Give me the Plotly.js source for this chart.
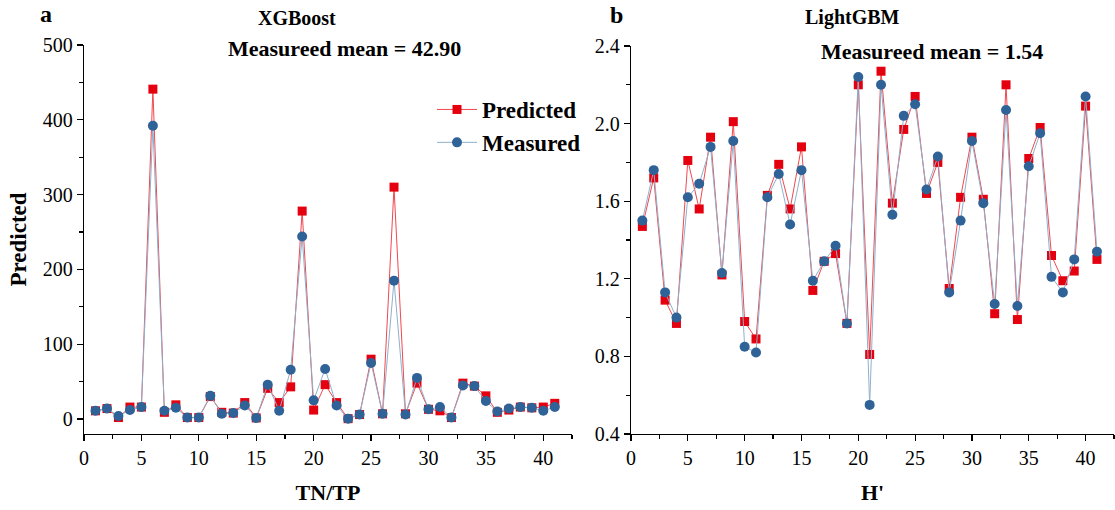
<!DOCTYPE html>
<html>
<head>
<meta charset="utf-8">
<script src="https://cdn.plot.ly/plotly-3.0.1.min.js"></script>
<style>html,body{margin:0;padding:0;background:#fff;}#chart{width:1115px;height:510px;}</style>
</head>
<body>
<div id="chart"></div>
<script>
const sampleIdx = [1,2,3,4,5,6,7,8,9,10,11,12,13,14,15,16,17,18,19,20,21,22,23,24,25,26,27,28,29,30,31,32,33,34,35,36,37,38,39,40,41];

const xgbPredicted = [11,14,2,16,16,441,9,19,2,2,30,9,8,22,1.5,41,22,43,278,12,46,22,0.5,6,80,7,310,7,48,13,11,2,48,44,31,9,12,16,15,16,21];
const xgbMeasured  = [11,14,4,12,16,392,11,15,2,2,31,7,8,18,1.5,46,11,66,244,25,67,18,0.5,6,75,7,185,6,55,13,16,2,45,44,24,10,14,16,15,11,16];

const lgbPredicted = [1.47,1.72,1.09,0.97,1.81,1.56,1.93,1.22,2.01,0.98,0.89,1.63,1.79,1.56,1.88,1.14,1.29,1.33,0.97,2.20,0.81,2.27,1.59,1.97,2.14,1.64,1.80,1.15,1.62,1.93,1.61,1.02,2.20,0.99,1.82,1.98,1.32,1.19,1.24,2.09,1.30];
const lgbMeasured  = [1.50,1.76,1.13,1.00,1.62,1.69,1.88,1.23,1.91,0.85,0.82,1.62,1.74,1.48,1.76,1.19,1.29,1.37,0.97,2.24,0.55,2.20,1.53,2.04,2.10,1.66,1.83,1.13,1.50,1.91,1.59,1.07,2.07,1.06,1.78,1.95,1.21,1.13,1.30,2.14,1.34];

const seriesNames = ['Predicted','Measured'];
const panelTitles = ['XGBoost','LightGBM'];
const meanLabels = ['Measureed mean = 42.90','Measureed mean = 1.54'];
const xTitles = ['TN/TP',"H'"];
const yTitle = 'Predicted';
const panelLetters = ['a','b'];

const RED = '#e5000f';
const BLUE = '#2f6397';
const FONT = '"Liberation Serif", "Times New Roman", Times, serif';

function predTrace(y, xa, ya, show){
  return {x: sampleIdx, y: y, xaxis: xa, yaxis: ya, type:'scatter', mode:'lines+markers',
    name: seriesNames[0], showlegend: show,
    line:{color:'#f0484f', width:1},
    marker:{symbol:'square', size:9, color:RED}};
}
function measTrace(y, xa, ya, show){
  return {x: sampleIdx, y: y, xaxis: xa, yaxis: ya, type:'scatter', mode:'lines+markers',
    name: seriesNames[1], showlegend: show,
    line:{color:'#8fb0cc', width:1},
    marker:{symbol:'circle', size:10, color:BLUE}};
}

const data = [
  predTrace(xgbPredicted,'x','y',true),
  measTrace(xgbMeasured,'x','y',true),
  predTrace(lgbPredicted,'x2','y2',false),
  measTrace(lgbMeasured,'x2','y2',false)
];

const axBase = {
  showline:true, linecolor:'#000', linewidth:1.3, mirror:false,
  showgrid:false, zeroline:false,
  ticks:'outside', ticklen:6, tickwidth:1.2, tickcolor:'#000',
  tickfont:{family:FONT, size:20, color:'#000'}
};

const W = 1115, H = 510;
function ann(text, px, py, size){
  return {text:'<b>'+text+'</b>', x:px/W, y:1-py/H, xref:'paper', yref:'paper',
    xanchor:'center', yanchor:'middle', showarrow:false,
    font:{family:FONT, size:size, color:'#000'}};
}
const layout = {
  width: W, height: H,
  margin:{l:0,r:0,t:0,b:0},
  paper_bgcolor:'#fff', plot_bgcolor:'#fff',
  font:{family:FONT, color:'#000'},
  showlegend:true,
  legend:{x:432/W, y:1-88/H, xanchor:'left', yanchor:'top',
    font:{family:FONT, size:23, color:'#000', weight:'bold'},
    bgcolor:'rgba(0,0,0,0)', tracegroupgap:0, itemwidth:40},
  xaxis: Object.assign({}, axBase, {
    domain:[84/W, 572/W], range:[0,42.5], tickvals:[0,5,10,15,20,25,30,35,40],
    minor:{dtick:2.5, tick0:0, ticks:'outside', ticklen:4, tickcolor:'#000'},
    title:{text:'<b>'+xTitles[0]+'</b>', font:{family:FONT,size:22,color:'#000'}, standoff:16},
    anchor:'y'
  }),
  yaxis: Object.assign({}, axBase, {
    domain:[1-434/H, 1-45/H], range:[-20,500], tickvals:[0,100,200,300,400,500],
    minor:{tickvals:[50,150,250,350,450], ticks:'outside', ticklen:4, tickcolor:'#000'},
    title:{text:'<b>'+yTitle+'</b>', font:{family:FONT,size:23,color:'#000'}, standoff:9},
    anchor:'x'
  }),
  xaxis2: Object.assign({}, axBase, {
    domain:[631/W, 1114/W], range:[0,42.5], tickvals:[0,5,10,15,20,25,30,35,40],
    minor:{dtick:2.5, tick0:0, ticks:'outside', ticklen:4, tickcolor:'#000'},
    title:{text:'<b>'+xTitles[1]+'</b>', font:{family:FONT,size:22,color:'#000'}, standoff:16},
    anchor:'y2'
  }),
  yaxis2: Object.assign({}, axBase, {
    domain:[1-434/H, 1-46/H], range:[0.4,2.4], tickvals:[0.4,0.8,1.2,1.6,2.0,2.4],
    ticktext:['0.4','0.8','1.2','1.6','2.0','2.4'],
    minor:{tickvals:[0.6,1.0,1.4,1.8,2.2], ticks:'outside', ticklen:4, tickcolor:'#000'},
    anchor:'x2'
  }),
  annotations:[
    ann(panelLetters[0], 46, 14, 24),
    ann(panelLetters[1], 616, 15, 24),
    ann(panelTitles[0], 297, 18, 20),
    ann(panelTitles[1], 852, 18, 20),
    ann(meanLabels[0], 344, 48, 22),
    ann(meanLabels[1], 932, 52, 22)
  ]
};

Plotly.newPlot('chart', data, layout, {displayModeBar:false, staticPlot:true});
</script>
</body>
</html>
